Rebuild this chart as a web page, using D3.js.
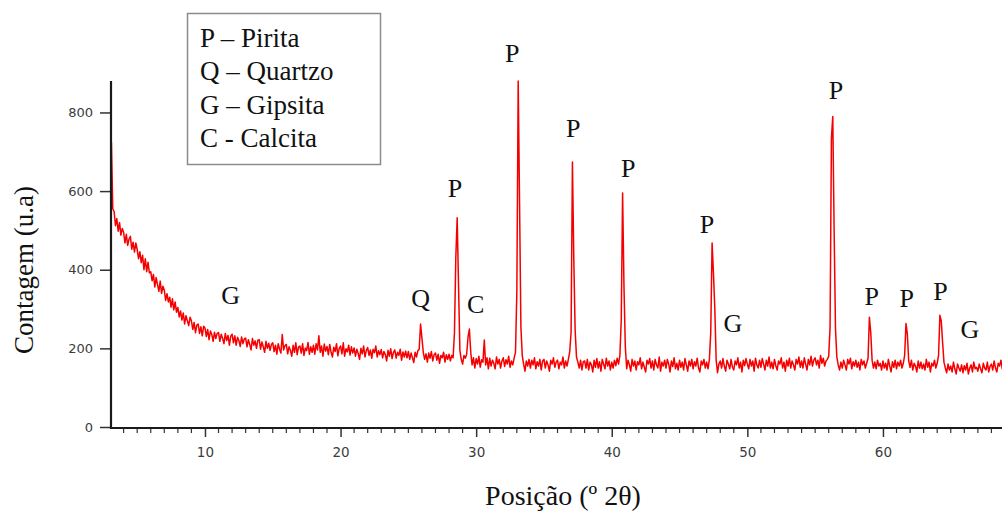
<!DOCTYPE html>
<html>
<head>
<meta charset="utf-8">
<script src="https://cdn.jsdelivr.net/npm/d3@7"></script>
<style>
  html, body { margin: 0; padding: 0; background: #ffffff; }
  svg { display: block; }
</style>
</head>
<body>
<svg id="chart" width="1002" height="511"></svg>
<script>
// Diffractogram: counts recorded from 3.1° to 68.9° (2θ) with a 0.1° step
const angleStart = 3.1;
const angleStep = 0.1;
const counts = [
  725, 555, 548, 512, 530, 498, 520, 488, 505,
  495, 468, 490, 462, 478, 485, 452, 470, 445, 468,
  452, 428, 446, 418, 437, 400, 428, 395, 419, 392,
  395, 372, 388, 356, 380, 362, 345, 371, 340, 358,
  348, 322, 339, 318, 330, 305, 326, 298, 318, 292,
  304, 280, 295, 272, 290, 262, 283, 270, 258, 279,
  270, 248, 266, 240, 259, 262, 238, 255, 232, 256,
  252, 230, 248, 222, 244, 236, 218, 241, 225, 238,
  240, 218, 236, 225, 212, 238, 220, 233, 208, 231,
  236, 214, 232, 208, 228, 220, 205, 229, 212, 224,
  226, 204, 222, 210, 196, 225, 208, 219, 200, 221,
  222, 198, 216, 204, 190, 218, 200, 213, 195, 210,
  214, 192, 208, 185, 212, 198, 188, 235, 196, 207,
  210, 186, 204, 195, 180, 208, 190, 214, 184, 203,
  206, 188, 212, 182, 201, 194, 215, 185, 204, 190,
  208, 185, 212, 196, 232, 190, 206, 180, 211, 193,
  205, 184, 210, 190, 178, 203, 192, 212, 181, 200,
  206, 186, 214, 180, 199, 191, 208, 183, 204, 188,
  201, 180, 198, 187, 172, 200, 186, 206, 178, 195,
  202, 182, 196, 175, 198, 189, 206, 178, 194, 184,
  197, 176, 192, 184, 168, 195, 180, 199, 174, 190,
  196, 175, 190, 182, 198, 170, 191, 178, 193, 176,
  192, 172, 188, 176, 164, 190, 178, 194, 198, 262,
  226, 190, 172, 186, 165, 188, 175, 192, 168, 184,
  188, 170, 185, 162, 182, 176, 190, 165, 184, 172,
  185, 168, 182, 176, 240, 432, 532, 360, 195, 172,
  160, 182, 175, 185, 229, 249, 190, 158, 176, 150,
  174, 160, 180, 152, 171, 165, 221, 158, 176, 148,
  175, 155, 170, 162, 148, 178, 160, 172, 150, 168,
  176, 154, 171, 160, 180, 152, 168, 158, 175, 190,
  343, 880, 571, 254, 182, 160, 142, 168, 155, 172,
  150, 170, 158, 176, 148, 166, 155, 172, 145, 168,
  172, 150, 168, 158, 142, 170, 160, 176, 152, 165,
  170, 148, 165, 158, 178, 150, 168, 155, 172, 192,
  241, 674, 429, 246, 178, 165, 150, 170, 145, 166,
  168, 150, 172, 145, 165, 158, 140, 170, 152, 174,
  150, 166, 142, 172, 160, 148, 175, 155, 168, 145,
  165, 150, 170, 156, 175, 160, 182, 272, 595, 360,
  205, 148, 170, 158, 142, 172, 155, 168, 145, 166,
  158, 176, 148, 165, 152, 140, 170, 160, 174, 150,
  168, 145, 172, 158, 150, 178, 142, 165, 155, 170,
  150, 172, 160, 140, 168, 154, 176, 148, 162, 145,
  170, 152, 165, 145, 174, 158, 142, 168, 155, 172,
  148, 166, 155, 175, 150, 140, 168, 158, 172, 150,
  165, 148, 172, 240, 468, 391, 302, 170, 138, 160,
  168, 150, 174, 155, 142, 170, 160, 148, 172, 152,
  145, 168, 158, 176, 150, 165, 140, 170, 156, 174,
  160, 148, 172, 155, 168, 142, 175, 158, 150, 170,
  152, 174, 160, 145, 170, 155, 178, 150, 165, 148,
  172, 156, 145, 168, 160, 176, 150, 165, 142, 170,
  155, 175, 150, 168, 158, 145, 172, 160, 178, 152,
  168, 150, 176, 160, 145, 172, 158, 180, 155, 170,
  176, 158, 170, 150, 182, 162, 175, 155, 168, 172,
  180, 254, 734, 790, 500, 250, 178, 158, 145, 165,
  150, 170, 158, 145, 172, 160, 175, 148, 166, 155,
  170, 152, 165, 145, 172, 158, 168, 150, 162, 175,
  279, 241, 170, 150, 165, 148, 170, 155, 162, 145,
  168, 150, 162, 145, 172, 155, 140, 166, 152, 170,
  148, 165, 155, 170, 150, 162, 182, 263, 236, 168,
  152, 170, 145, 162, 155, 140, 168, 150, 165, 148,
  160, 145, 172, 152, 165, 140, 162, 155, 170, 150,
  162, 182, 284, 270, 215, 165, 150, 138, 160, 145,
  155, 140, 165, 148, 135, 160, 150, 142, 158, 138,
  156, 145, 162, 135, 150, 158, 140, 165, 148, 152,
  142, 160, 148, 138, 162, 150, 145, 165, 140, 155,
  160, 145, 168, 150, 140, 162, 155, 170, 148, 158
];

// Axis ticks
const xTicks = [10, 20, 30, 40, 50, 60];
const yTicks = [0, 200, 400, 600, 800];

// Phase key
const legendItems = ["P – Pirita", "Q – Quartzo", "G – Gipsita", "C - Calcita"];

// Phase identification letters placed over the reflections (angle, count)
const phaseLetters = ["G", "Q", "P", "C", "P", "P", "P", "P", "G", "P", "P", "P", "P", "G"];
const phaseAngles  = [11.9, 25.91, 28.44, 29.96, 32.66, 37.16, 41.22, 47.02, 48.94, 56.53, 59.17, 61.75, 64.25, 66.41];
const phaseCounts  = [314, 305, 584, 290, 928, 737, 637, 493, 241, 835, 310, 306, 323, 226];

const xTitle = "Posição (º 2θ)";
const yTitle = "Contagem (u.a)";

// ---------------------------------------------------------------------------
const svg = d3.select("#chart");
const plotLeft = 111, plotRight = 1002, plotTop = 81, plotBottom = 427;

const points = counts.map((c, i) => ({ angle: angleStart + i * angleStep, count: c }));

const x = d3.scaleLinear().domain([3.07, 68.78]).range([plotLeft, plotRight]);
const y = d3.scaleLinear().domain([0, d3.max(counts)]).range([plotBottom, plotTop]);

const serif = "'Liberation Serif', 'Times New Roman', serif";
const sans = "'DejaVu Sans', Verdana, sans-serif";

// clip for the trace
svg.append("defs").append("clipPath").attr("id", "plot-clip")
  .append("rect")
  .attr("x", plotLeft).attr("y", 0)
  .attr("width", plotRight - plotLeft).attr("height", plotBottom + 2);

// trace
const line = d3.line().x(d => x(d.angle)).y(d => y(d.count));
svg.append("path")
  .datum(points)
  .attr("clip-path", "url(#plot-clip)")
  .attr("fill", "none")
  .attr("stroke", "#f50000")
  .attr("stroke-width", 1.5)
  .attr("stroke-linejoin", "round")
  .attr("d", line);

// y axis
const axisY = svg.append("g")
  .attr("transform", `translate(${plotLeft},0)`)
  .call(d3.axisLeft(y).tickValues(yTicks).tickSize(11).tickSizeOuter(0).tickPadding(7));
axisY.select(".domain").remove();
axisY.selectAll(".tick line").attr("stroke", "#333").attr("stroke-width", 1.5);
axisY.selectAll(".tick text")
  .attr("fill", "#3c3c3c")
  .style("font-family", sans)
  .style("font-size", "13px");

// x axis
const xAxisY = y(0) + 1;
const axisX = svg.append("g")
  .attr("transform", `translate(0,${xAxisY})`)
  .call(d3.axisBottom(x).tickValues(xTicks).tickSize(9).tickSizeOuter(0).tickFormat(d3.format("d")));
axisX.select(".domain").remove();
axisX.selectAll(".tick line").attr("stroke", "#333").attr("stroke-width", 1.5);
axisX.selectAll(".tick text")
  .attr("y", 29).attr("dy", null)
  .attr("fill", "#3c3c3c")
  .style("font-family", sans)
  .style("font-size", "13.5px");

// minor x ticks every degree
const minorTicks = d3.range(4, 69).filter(v => v % 10 !== 0);
svg.append("g").selectAll("line")
  .data(minorTicks)
  .join("line")
  .attr("x1", d => x(d)).attr("x2", d => x(d))
  .attr("y1", xAxisY).attr("y2", xAxisY + 5)
  .attr("stroke", "#333").attr("stroke-width", 1.2);

// axis lines
svg.append("line")
  .attr("x1", plotLeft).attr("x2", plotLeft)
  .attr("y1", plotTop).attr("y2", xAxisY + 1)
  .attr("stroke", "#1a1a1a").attr("stroke-width", 2.2);
svg.append("line")
  .attr("x1", plotLeft - 1).attr("x2", plotRight)
  .attr("y1", xAxisY).attr("y2", xAxisY)
  .attr("stroke", "#1a1a1a").attr("stroke-width", 2.2);

// phase letters
svg.append("g").selectAll("text")
  .data(phaseLetters.map((t, i) => ({ t, a: phaseAngles[i], c: phaseCounts[i] })))
  .join("text")
  .attr("x", d => x(d.a))
  .attr("y", d => y(d.c))
  .attr("text-anchor", "middle")
  .attr("fill", "#111")
  .style("font-family", serif)
  .style("font-size", "26px")
  .text(d => d.t);

// legend box
const legend = svg.append("g");
legend.append("rect")
  .attr("x", 187.5).attr("y", 13.5)
  .attr("width", 193).attr("height", 151)
  .attr("fill", "#fff")
  .attr("stroke", "#8c8c8c").attr("stroke-width", 1.5);
legend.selectAll("text")
  .data(legendItems)
  .join("text")
  .attr("x", 200)
  .attr("y", (d, i) => 47 + i * 33.3)
  .attr("fill", "#111")
  .style("font-family", serif)
  .style("font-size", "27px")
  .text(d => d);

// axis titles
svg.append("text")
  .attr("x", 563).attr("y", 505)
  .attr("text-anchor", "middle")
  .attr("fill", "#111")
  .style("font-family", serif)
  .style("font-size", "28px")
  .text(xTitle);

svg.append("text")
  .attr("transform", "translate(33,270) rotate(-90)")
  .attr("text-anchor", "middle")
  .attr("fill", "#111")
  .style("font-family", serif)
  .style("font-size", "27px")
  .text(yTitle);
</script>
</body>
</html>
